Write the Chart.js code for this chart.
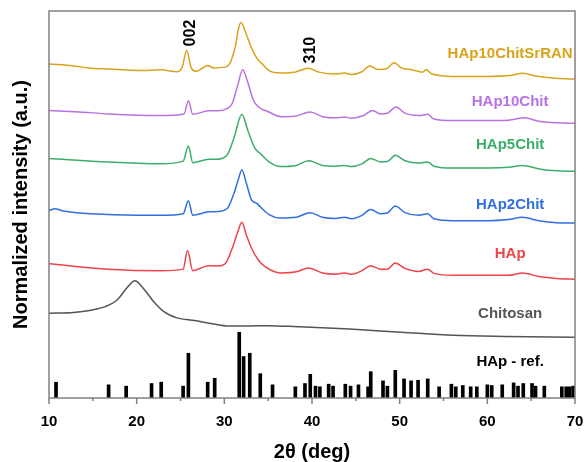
<!DOCTYPE html>
<html>
<head>
<meta charset="utf-8">
<script src="https://cdn.jsdelivr.net/npm/chart.js@4/dist/chart.umd.min.js"></script>
<style>
  html, body { margin: 0; padding: 0; background: #fff; }
  canvas { display: block; }
</style>
</head>
<body>
<canvas id="xrd" width="586" height="462"></canvas>
<script>
// 2theta (deg), intensity (a.u., stacked offsets included)
const hap10ChitSrRAN = [
  [10, 86.3], [12.8, 85.8], [14.5, 85.3], [16.8, 85.0], [20.7, 84.6], [22.7, 84.8], [24.6, 84.3],
  [25.2, 85.5], [25.7, 89.8], [26.2, 85.5], [26.8, 84.4], [28.1, 85.9], [28.8, 85.3], [30.1, 85.5],
  [30.7, 86.8], [31.1, 89.5], [31.3, 91.3], [31.6, 95.3], [31.9, 97.0], [32.5, 94.0], [33.1, 90.4],
  [33.8, 87.5], [34.3, 86.4], [35.1, 84.6], [36.4, 84.0], [38.0, 84.2], [39.6, 85.2], [40.8, 84.2],
  [42.7, 83.7], [43.7, 84.0], [44.5, 83.6], [45.7, 84.3], [46.6, 85.8], [47.5, 84.9], [48.4, 85.0],
  [49.4, 86.6], [50.2, 85.3], [51.4, 84.8], [52.6, 84.2], [53.0, 84.8], [53.7, 83.7], [56.1, 83.1],
  [60.0, 83.1], [62.8, 83.4], [64.0, 83.9], [65.5, 83.2], [67.9, 82.6], [70, 82.4]
];
const hap10Chit = [
  [10, 74.3], [13.5, 73.9], [16.8, 73.4], [22.7, 73.0], [25.4, 73.4], [25.9, 76.8], [26.4, 73.3],
  [28.2, 74.2], [29.2, 74.2], [30.3, 74.8], [30.9, 76.1], [31.5, 80.6], [32.1, 84.8], [32.7, 81.4],
  [33.3, 77.0], [33.9, 75.2], [35.1, 73.9], [36.4, 72.7], [38.0, 72.8], [39.8, 73.9], [41.2, 72.7],
  [42.7, 72.4], [43.7, 72.6], [44.5, 72.3], [45.9, 73.0], [46.9, 74.3], [47.8, 73.4], [48.6, 73.6],
  [49.6, 75.2], [50.6, 73.6], [52.2, 73.0], [53.2, 73.3], [53.9, 72.1], [56.1, 71.7], [60.0, 71.7],
  [62.4, 71.8], [64.2, 72.4], [65.9, 71.5], [67.9, 71.1], [70, 71.0]
];
const hap5Chit = [
  [10, 61.9], [16.8, 61.0], [22.7, 60.5], [25.3, 61.2], [25.9, 65.1], [26.4, 60.8], [28.2, 61.7],
  [29.2, 61.7], [30.3, 62.7], [31.1, 67.2], [32.0, 73.3], [32.7, 69.0], [33.5, 64.5], [34.1, 63.2],
  [35.1, 61.0], [36.4, 59.8], [38.2, 60.1], [39.6, 61.3], [41.2, 60.1], [42.7, 59.9], [43.7, 60.1],
  [44.5, 59.8], [45.7, 60.5], [46.7, 61.9], [47.8, 61.0], [48.6, 61.1], [49.5, 62.7], [50.6, 61.3],
  [52.2, 60.7], [53.2, 61.0], [53.9, 59.9], [56.1, 59.4], [60.0, 59.4], [62.4, 59.6], [64.0, 60.1],
  [65.9, 59.2], [67.9, 58.7], [70, 58.6]
];
const hap2Chit = [
  [10, 48.5], [10.7, 48.9], [11.5, 48.4], [16.8, 47.4], [22.7, 47.2], [25.3, 47.6], [25.9, 51.0],
  [26.4, 47.2], [28.2, 48.1], [29.2, 48.2], [30.3, 48.9], [31.1, 52.9], [31.6, 56.5], [32.0, 59.0],
  [32.5, 55.6], [33.1, 51.2], [33.7, 50.3], [34.1, 49.4], [35.1, 47.4], [36.4, 46.5], [38.2, 46.7],
  [39.8, 47.9], [41.2, 46.7], [42.7, 46.4], [43.7, 46.7], [44.5, 46.3], [45.7, 47.2], [46.7, 48.7],
  [47.8, 47.6], [48.6, 47.8], [49.5, 49.6], [50.6, 47.9], [52.2, 47.2], [53.2, 47.6], [53.9, 46.3],
  [56.1, 45.8], [60.0, 45.8], [62.4, 46.1], [64.0, 46.7], [65.9, 45.8], [67.9, 45.3], [70, 45.2]
];
const hap = [
  [10, 34.7], [16.8, 33.3], [22.7, 32.9], [25.3, 33.3], [25.8, 38.1], [26.4, 32.9], [28.2, 34.2],
  [29.2, 34.1], [30.1, 34.7], [30.9, 38.7], [31.5, 42.7], [32.0, 45.4], [32.5, 42.2], [33.1, 38.7],
  [33.9, 35.6], [34.5, 34.2], [36.4, 32.3], [38.2, 32.6], [39.6, 33.6], [41.2, 32.3], [42.7, 32.0],
  [43.7, 32.3], [44.5, 32.0], [45.7, 32.9], [46.7, 34.2], [47.8, 33.3], [48.6, 33.3], [49.5, 34.9],
  [50.6, 33.5], [52.2, 32.7], [53.2, 33.3], [53.9, 32.2], [56.1, 31.7], [60.0, 31.7], [62.4, 31.7],
  [64.0, 32.3], [65.9, 31.4], [67.9, 30.9], [70, 30.7]
];
const chitosan = [
  [10, 21.9], [12.8, 22.1], [14.8, 22.7], [16.4, 23.6], [17.8, 25.4], [18.9, 28.5], [19.8, 30.3],
  [20.7, 28.5], [21.9, 25.0], [23.1, 22.3], [24.6, 20.7], [26.6, 20.0], [28.6, 19.2], [30.5, 18.6],
  [32.5, 18.6], [34.9, 18.7], [38.4, 18.4], [44.3, 17.8], [50.2, 17.0], [56.1, 16.2], [62.0, 15.9],
  [70, 15.7]
];

// HAp reference pattern: positions and relative intensities (%)
const refPositions = [10.8, 16.8, 18.8, 21.7, 22.8, 25.3, 25.9, 28.1, 28.9, 31.7, 32.2, 32.9, 34.1,
  35.5, 38.1, 39.2, 39.8, 40.4, 40.9, 41.9, 42.4, 43.8, 44.4, 45.3, 46.4, 46.7, 48.1, 48.6, 49.5,
  50.5, 51.3, 52.1, 53.2, 54.5, 55.9, 56.4, 57.2, 58.1, 58.8, 60.0, 60.5, 61.7, 63.0, 63.5, 64.1,
  65.1, 65.5, 66.5, 68.5, 69.0, 69.4, 69.8];
const refIntensity = [24, 20, 18, 22, 24, 18, 68, 24, 30, 100, 63, 68, 37, 20, 17, 22, 36, 18, 17,
  21, 18, 21, 18, 20, 17, 40, 26, 18, 42, 29, 26, 27, 29, 17, 21, 17, 19, 17, 17, 20, 19, 20, 23,
  18, 22, 22, 18, 18, 17, 17, 17, 18];
const refScale = 0.17;

const seriesNames = ['HAp10ChitSrRAN', 'HAp10Chit', 'HAp5Chit', 'HAp2Chit', 'HAp', 'Chitosan', 'HAp - ref.'];
const seriesColors = ['#D9A21B', '#B872E3', '#3AAE6A', '#2F6FE0', '#EE4347', '#555555', '#000000'];
const patterns = [hap10ChitSrRAN, hap10Chit, hap5Chit, hap2Chit, hap, chitosan];

// where the names and the hkl labels sit, in data units
const nameX = 62.6;
const nameY = [88.8, 76.4, 65.4, 49.8, 37.2, 21.8, 9.3];
const hklLabels = [
  { text: '002', x: 26.1, y: 94.3 },
  { text: '310', x: 39.85, y: 89.9 }
];

const FONT = 'Liberation Sans, Arial, sans-serif';

const datasets = patterns.map((pts, i) => ({
  type: 'line',
  label: seriesNames[i],
  data: pts.map(p => ({ x: p[0], y: p[1] })),
  borderColor: seriesColors[i],
  borderWidth: 1.5,
  pointRadius: 0,
  fill: false,
  cubicInterpolationMode: 'monotone'
}));
datasets.push({
  type: 'bar',
  label: seriesNames[6],
  data: refPositions.map((p, i) => ({ x: p, y: refIntensity[i] * refScale })),
  backgroundColor: '#000',
  barThickness: 3
});

const decorations = {
  id: 'decorations',
  afterDatasetsDraw(chart) {
    const { ctx, chartArea: a, scales: { x, y } } = chart;
    ctx.save();
    ctx.strokeStyle = '#808080';
    ctx.lineWidth = 1.5;
    ctx.strokeRect(a.left, a.top, a.right - a.left, a.bottom - a.top);
    for (let v = x.min; v <= x.max; v += 5) {
      const px = x.getPixelForValue(v);
      const len = v % 10 === 0 ? 6 : 3;
      ctx.beginPath();
      ctx.moveTo(px, a.bottom);
      ctx.lineTo(px, a.bottom + len);
      ctx.stroke();
    }
    ctx.textAlign = 'center';
    ctx.textBaseline = 'middle';
    ctx.font = 'bold 15px ' + FONT;
    seriesNames.forEach((name, i) => {
      ctx.fillStyle = seriesColors[i];
      ctx.fillText(name, x.getPixelForValue(nameX), y.getPixelForValue(nameY[i]));
    });
    ctx.fillStyle = '#000';
    ctx.font = 'bold 16px ' + FONT;
    hklLabels.forEach(l => {
      ctx.save();
      ctx.translate(x.getPixelForValue(l.x), y.getPixelForValue(l.y));
      ctx.rotate(-Math.PI / 2);
      ctx.fillText(l.text, 0, 0);
      ctx.restore();
    });
    ctx.restore();
  }
};

new Chart(document.getElementById('xrd'), {
  type: 'line',
  data: { datasets },
  options: {
    responsive: false,
    animation: false,
    layout: { padding: { top: 11, right: 11, left: 0, bottom: 0 } },
    plugins: { legend: { display: false }, tooltip: { enabled: false } },
    scales: {
      x: {
        type: 'linear',
        min: 10,
        max: 70,
        offset: false,
        grid: { display: false },
        border: { display: false },
        ticks: { stepSize: 10, color: '#000', padding: 7, font: { family: FONT, size: 15, weight: 'bold' } },
        title: { display: true, text: '2θ (deg)', color: '#000', padding: { top: 4, bottom: 0 },
          font: { family: FONT, size: 20, weight: 'bold', lineHeight: 1.0 } },
        afterFit(s) { s.height = 64; s.paddingLeft = 0; s.paddingRight = 0; }
      },
      y: {
        min: 0,
        max: 100,
        grid: { display: false },
        border: { display: false },
        ticks: { display: false },
        title: { display: true, text: 'Normalized intensity (a.u.)', color: '#000', padding: { top: 9, bottom: 0 },
          font: { family: FONT, size: 20, weight: 'bold' } },
        afterFit(s) { s.width = 49; }
      }
    }
  },
  plugins: [decorations]
});
</script>
</body>
</html>
